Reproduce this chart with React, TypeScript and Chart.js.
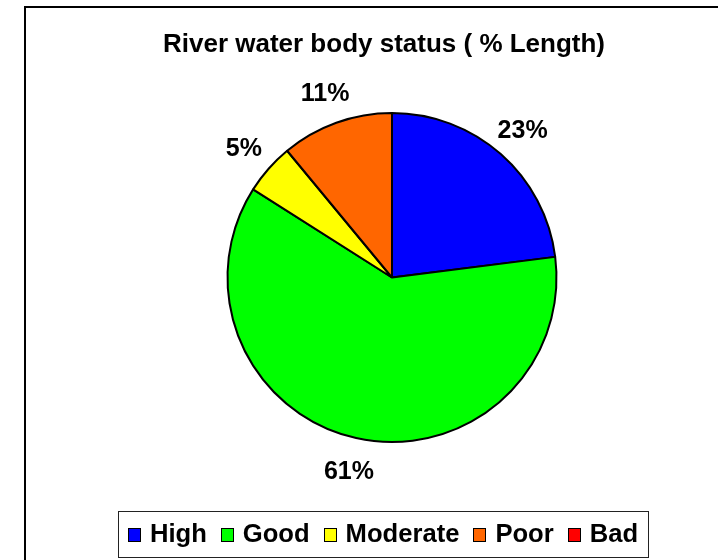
import React, { useEffect, useRef } from 'react';
import { Chart, registerables } from 'chart.js';

Chart.register(...registerables);

// ---- data ----
const categories = ['High', 'Good', 'Moderate', 'Poor', 'Bad'];
const lengthShares = [23, 61, 5, 11, 0];
const titleText = 'River water body status ( % Length)';

// ---- styles ----
const sliceColors = ['#0000FF', '#00FF00', '#FFFF00', '#FF6600', '#FF0000'];
const FONT = '"Liberation Sans", Arial, Helvetica, sans-serif';

const framePlugin = {
  id: 'frame',
  beforeDraw(chart: any) {
    const ctx = chart.ctx;
    ctx.save();
    ctx.fillStyle = '#ffffff';
    ctx.fillRect(0, 0, chart.width, chart.height);
    ctx.strokeStyle = '#000000';
    ctx.lineWidth = 2;
    ctx.beginPath();
    ctx.moveTo(25, chart.height);
    ctx.lineTo(25, 7);
    ctx.lineTo(chart.width, 7);
    ctx.stroke();
    ctx.restore();
  },
};

const titlePlugin = {
  id: 'customTitle',
  afterDraw(chart: any) {
    const ctx = chart.ctx;
    ctx.save();
    ctx.font = `bold 26px ${FONT}`;
    ctx.fillStyle = '#000';
    ctx.textAlign = 'center';
    ctx.textBaseline = 'alphabetic';
    ctx.fillText(titleText, 384, 52);
    ctx.restore();
  },
};

const sliceLabelPlugin = {
  id: 'sliceLabels',
  afterDatasetsDraw(chart: any) {
    const ctx = chart.ctx;
    const meta = chart.getDatasetMeta(0);
    const values = chart.data.datasets[0].data as number[];
    ctx.save();
    ctx.font = `bold 25px ${FONT}`;
    ctx.fillStyle = '#000';
    ctx.textAlign = 'center';
    ctx.textBaseline = 'alphabetic';
    meta.data.forEach((arc: any, i: number) => {
      const v = values[i];
      if (!v) return;
      const { startAngle, endAngle, outerRadius, x, y } = arc.getProps(
        ['startAngle', 'endAngle', 'outerRadius', 'x', 'y'],
        true
      );
      const mid = (startAngle + endAngle) / 2;
      const d = outerRadius + 33;
      ctx.fillText(`${v}%`, x + Math.cos(mid) * d, y + Math.sin(mid) * d + 9);
    });
    ctx.restore();
  },
};

const legendPlugin = {
  id: 'boxedLegend',
  afterDraw(chart: any) {
    const ctx = chart.ctx;
    const labels = chart.data.labels as string[];
    const colors = chart.data.datasets[0].backgroundColor as string[];
    const box = 13;
    const boxGap = 9;
    const itemGap = 14;
    const pad = 10;
    const centerX = 383;
    const top = 511;
    const height = 46;
    ctx.save();
    ctx.font = `bold 25.6px ${FONT}`;
    const widths = labels.map((t) => ctx.measureText(t).width);
    const content =
      widths.reduce((a, w) => a + box + boxGap + w, 0) + itemGap * (labels.length - 1);
    const left = centerX - content / 2;
    ctx.strokeStyle = '#222';
    ctx.lineWidth = 1;
    ctx.strokeRect(Math.round(left - pad) + 0.5, top + 0.5, Math.round(content + 2 * pad), height);
    let x = left;
    labels.forEach((t, i) => {
      ctx.fillStyle = colors[i];
      ctx.fillRect(Math.round(x), 528, box, box + 1);
      ctx.strokeStyle = '#000';
      ctx.lineWidth = 1;
      ctx.strokeRect(Math.round(x) + 0.5, 528.5, box - 1, box);
      x += box + boxGap;
      ctx.fillStyle = '#000';
      ctx.textAlign = 'left';
      ctx.textBaseline = 'alphabetic';
      ctx.fillText(t, x, 542);
      x += widths[i] + itemGap;
    });
    ctx.restore();
  },
};

export default function App() {
  const canvasRef = useRef<HTMLCanvasElement | null>(null);

  useEffect(() => {
    if (!canvasRef.current) return;
    const chart = new Chart(canvasRef.current, {
      type: 'pie',
      data: {
        labels: categories,
        datasets: [
          {
            data: lengthShares,
            backgroundColor: sliceColors,
            borderColor: '#000000',
            borderWidth: 2,
          },
        ],
      },
      options: {
        responsive: false,
        animation: false,
        events: [],
        layout: { padding: { left: 66, right: 0, top: 112, bottom: 117 } },
        plugins: {
          legend: { display: false },
          title: { display: false },
          tooltip: { enabled: false },
        },
      },
      plugins: [framePlugin, titlePlugin, sliceLabelPlugin, legendPlugin],
    });
    return () => chart.destroy();
  }, []);

  return (
    <div style={{ position: 'fixed', left: 0, top: 0, width: 718, height: 560, background: '#fff' }}>
      <canvas ref={canvasRef} width={718} height={560} style={{ display: 'block' }} />
    </div>
  );
}
